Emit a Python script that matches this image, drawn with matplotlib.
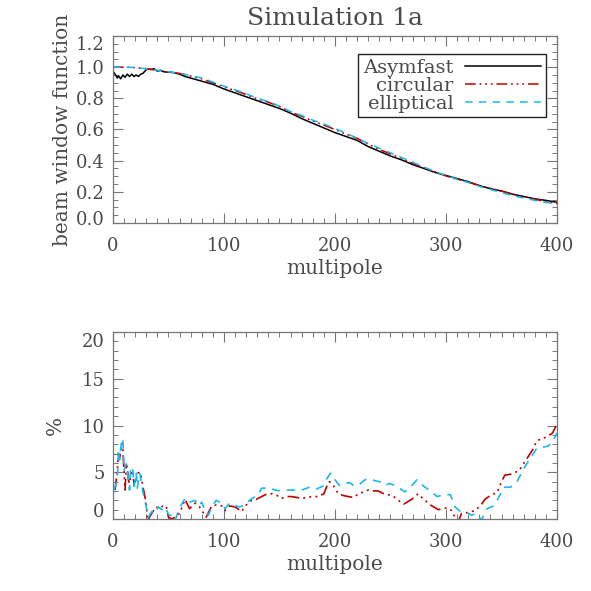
import numpy as np
import matplotlib
matplotlib.use('Agg')
import matplotlib.pyplot as plt
from matplotlib.ticker import MultipleLocator
from matplotlib.transforms import ScaledTranslation

# top panel: beam window functions
l_asym = [0, 2, 4, 5, 7, 9, 11, 13, 15, 17,
          19, 21, 23, 25, 27, 29, 31, 34, 37, 40,
          43, 46, 50, 55, 60, 65, 70, 80, 90, 100,
          110, 120, 130, 140, 150, 160, 170, 180, 190, 200,
          210, 220, 230, 240, 250, 260, 270, 280, 290, 300,
          310, 320, 330, 340, 350, 360, 370, 380, 390, 400]
b_asym = [0.975, 0.955, 0.93, 0.945, 0.925, 0.95, 0.935, 0.955, 0.94, 0.955,
          0.94, 0.95, 0.94, 0.955, 0.96, 0.975, 0.99, 0.985, 0.99, 0.975,
          0.98, 0.97, 0.968, 0.965, 0.955, 0.94, 0.93, 0.91, 0.89, 0.86,
          0.835, 0.81, 0.785, 0.76, 0.735, 0.705, 0.67, 0.64, 0.61, 0.58,
          0.555, 0.53, 0.49, 0.46, 0.43, 0.405, 0.375, 0.35, 0.325, 0.305,
          0.285, 0.265, 0.24, 0.22, 0.205, 0.185, 0.17, 0.155, 0.145, 0.133]

l_smooth = list(range(0, 401, 10))
b_circ = [1.0, 1.0, 0.997, 0.99, 0.98, 0.968, 0.96, 0.943, 0.925, 0.9,
          0.872, 0.85, 0.825, 0.797, 0.775, 0.748, 0.712, 0.685, 0.655, 0.628,
          0.6, 0.57, 0.543, 0.505, 0.472, 0.443, 0.415, 0.383, 0.355, 0.328,
          0.302, 0.28, 0.262, 0.24, 0.222, 0.205, 0.185, 0.168, 0.152, 0.138, 0.125]
b_ell = [1.0, 1.0, 0.998, 0.99, 0.98, 0.97, 0.962, 0.945, 0.93, 0.905,
         0.878, 0.855, 0.83, 0.8, 0.78, 0.75, 0.715, 0.69, 0.66, 0.635,
         0.607, 0.575, 0.545, 0.51, 0.48, 0.45, 0.42, 0.39, 0.36, 0.33,
         0.305, 0.28, 0.26, 0.235, 0.215, 0.195, 0.175, 0.16, 0.145, 0.132, 0.12]

# bottom panel: percent difference
l_pc = [2, 4, 5, 6, 8, 9, 10, 11, 12, 13,
        14, 15, 17, 18, 19, 21, 22, 24, 25, 27,
        30, 31, 35, 39, 42, 45, 48, 50, 53, 56,
        60, 65, 69, 74, 78, 84, 89, 93, 98, 101,
        105, 110, 116, 120, 125, 129, 134, 139, 143, 148,
        152, 157, 161, 166, 170, 175, 179, 185, 190, 193,
        195, 199, 203, 208, 212, 217, 221, 226, 230, 235,
        239, 244, 248, 253, 257, 262, 269, 275, 280, 286,
        293, 301, 305, 308, 311, 314, 320, 326, 331, 335,
        341, 346, 350, 353, 359, 366, 372, 378, 382, 387,
        391, 396, 400]
p_circ = [3.1, 5.2, 7.0, 6.5, 8.1, 7.5, 5.2, 3.1, 5.9, 5.5,
          4.2, 3.8, 5.2, 4.9, 3.8, 4.2, 4.9, 5.0, 4.9, 3.5,
          1.7, -0.2, 0.6, 1.3, 1.1, 1.4, 1.4, 0.2, 0.0, 0.2,
          0.6, 2.1, 1.1, 1.7, 1.3, 0.2, 1.4, 1.5, 1.4, 0.9,
          1.4, 1.3, 0.8, 1.5, 2.0, 2.1, 2.4, 2.7, 2.7, 2.5,
          2.2, 2.4, 2.4, 2.3, 2.2, 2.3, 2.4, 2.4, 2.7, 3.6,
          4.0, 3.5, 2.7, 2.5, 2.4, 2.3, 2.7, 2.9, 3.1, 3.0,
          3.0, 2.7, 2.6, 2.4, 2.0, 1.6, 2.1, 2.7, 2.1, 1.5,
          1.0, 1.2, 0.9, 0.2, -0.3, 0.6, 0.7, 0.9, 1.4, 2.1,
          2.6, 2.8, 4.0, 4.7, 4.8, 5.2, 6.3, 7.4, 8.4, 8.6,
          8.8, 9.2, 10.2]

l_pe = [1, 4, 5, 6, 8, 9, 10, 12, 14, 15,
        16, 18, 19, 21, 22, 24, 26, 27, 30, 32,
        35, 38, 41, 44, 47, 50, 53, 56, 59, 62,
        65, 69, 74, 77, 80, 83, 86, 89, 93, 98,
        101, 105, 110, 114, 119, 123, 128, 132, 134, 141,
        146, 152, 158, 164, 170, 177, 183, 189, 192, 196,
        200, 204, 209, 213, 218, 222, 227, 231, 236, 240,
        245, 249, 254, 258, 263, 267, 274, 280, 286, 292,
        298, 304, 308, 313, 319, 323, 327, 332, 337, 343,
        347, 352, 358, 364, 370, 376, 382, 388, 392, 396, 400]
p_ell = [3.1, 4.2, 7.4, 6.3, 8.5, 8.6, 5.2, 5.9, 4.2, 3.1,
         5.6, 5.2, 3.5, 4.9, 3.3, 4.9, 3.8, 2.9, 1.3, 0.2,
         0.8, 0.6, 1.3, 1.0, 1.3, 0.5, 0.3, -0.2, 0.9, 1.6,
         2.2, 1.8, 2.0, 1.4, 1.8, 0.9, 0.4, 1.3, 2.0, 1.7,
         1.1, 1.7, 1.4, 1.3, 1.5, 2.0, 2.4, 2.9, 3.3, 3.3,
         3.1, 3.0, 3.1, 3.1, 3.1, 3.4, 3.2, 3.5, 4.2, 4.9,
         4.2, 3.6, 3.8, 3.9, 3.5, 3.7, 4.2, 4.3, 4.1, 4.0,
         3.6, 3.8, 3.6, 3.3, 2.9, 3.3, 4.2, 3.5, 3.0, 2.4,
         2.6, 2.6, 1.3, 0.8, 0.7, 0.4, 0.6, -0.1, 1.1, 1.4,
         2.2, 3.4, 3.4, 4.0, 5.4, 6.5, 7.6, 7.7, 7.8, 8.3, 9.2]

yt_top = [0.0, 0.2, 0.4, 0.6, 0.8, 1.0, 1.2]
yt_bot = [0, 5, 10, 15, 20]

txt = '#4a4a4a'
red = '#c00000'
cyan = '#1ab8f0'
circ_dash = (0, (7, 2.5, 1.2, 2.5, 1.2, 2.5, 1.2, 2.5))
ell_dash = (0, (5, 4))

plt.rcParams['font.family'] = ['DejaVu Serif']
plt.rcParams['text.color'] = txt
plt.rcParams['axes.labelcolor'] = txt
plt.rcParams['xtick.color'] = '#777777'
plt.rcParams['ytick.color'] = '#777777'
plt.rcParams['xtick.labelcolor'] = txt
plt.rcParams['ytick.labelcolor'] = txt

fig = plt.figure(figsize=(5.91, 5.91), dpi=100)
ax1 = fig.add_axes([0.191, 0.6227, 0.7515, 0.3164])
ax2 = fig.add_axes([0.191, 0.1218, 0.7515, 0.3164])


def style(ax):
    for s in ax.spines.values():
        s.set_color('#777777')
        s.set_linewidth(0.9)
    ax.set_xlim(0, 400)
    ax.xaxis.set_major_locator(MultipleLocator(100))
    ax.xaxis.set_minor_locator(MultipleLocator(10))
    ax.tick_params(which='both', direction='in', top=True, right=True, labelsize=13)
    ax.tick_params(axis='x', pad=10)
    ax.tick_params(axis='y', pad=6)
    ax.tick_params(which='major', length=7, width=0.8)
    ax.tick_params(which='minor', length=3.5, width=0.7)
    ax.set_xlabel('multipole', fontsize=14.5, labelpad=3)


def nudge_ends(ax, up, down):
    # IDL draws the end labels a bit inside the axis range
    ticks = ax.yaxis.get_major_ticks()
    lab = ticks[0].label1
    lab.set_transform(lab.get_transform() + ScaledTranslation(0, up / 100, fig.dpi_scale_trans))
    lab = ticks[-1].label1
    lab.set_transform(lab.get_transform() + ScaledTranslation(0, -down / 100, fig.dpi_scale_trans))


ax1.plot(l_asym, b_asym, color='black', lw=1.1, label='Asymfast')
ax1.plot(l_smooth, b_circ, color=red, lw=1.1, linestyle=circ_dash, label='circular')
ax1.plot(l_smooth, b_ell, color=cyan, lw=1.1, linestyle=ell_dash, label='elliptical')
style(ax1)
ax1.set_ylim(0, 1.2)
ax1.set_yticks(yt_top)
ax1.set_yticklabels(['%.1f' % v for v in yt_top])
ax1.yaxis.set_minor_locator(MultipleLocator(0.05))
nudge_ends(ax1, 5, 7)
ax1.set_ylabel('beam window function', fontsize=14.5, labelpad=3)
ax1.set_title('Simulation 1a', fontsize=18, pad=8)
leg = ax1.legend(loc='upper right', bbox_to_anchor=(0.975, 0.905), borderaxespad=0,
                 markerfirst=False, fontsize=14, handlelength=3.9, handletextpad=0.6,
                 labelspacing=0.0, borderpad=0.25, fancybox=False, framealpha=1)
leg.get_frame().set_edgecolor('#222222')
leg.get_frame().set_linewidth(1.0)

ax2.plot(l_pc, p_circ, color=red, lw=1.2, linestyle=circ_dash)
ax2.plot(l_pe, p_ell, color=cyan, lw=1.2, linestyle=ell_dash)
style(ax2)
ax2.set_ylim(0, 20)
ax2.set_yticks(yt_bot)
ax2.yaxis.set_minor_locator(MultipleLocator(1))
nudge_ends(ax2, 9, 8)
ax2.set_ylabel('%', fontsize=14.5, labelpad=12)

fig.savefig('out.png', dpi=100)
